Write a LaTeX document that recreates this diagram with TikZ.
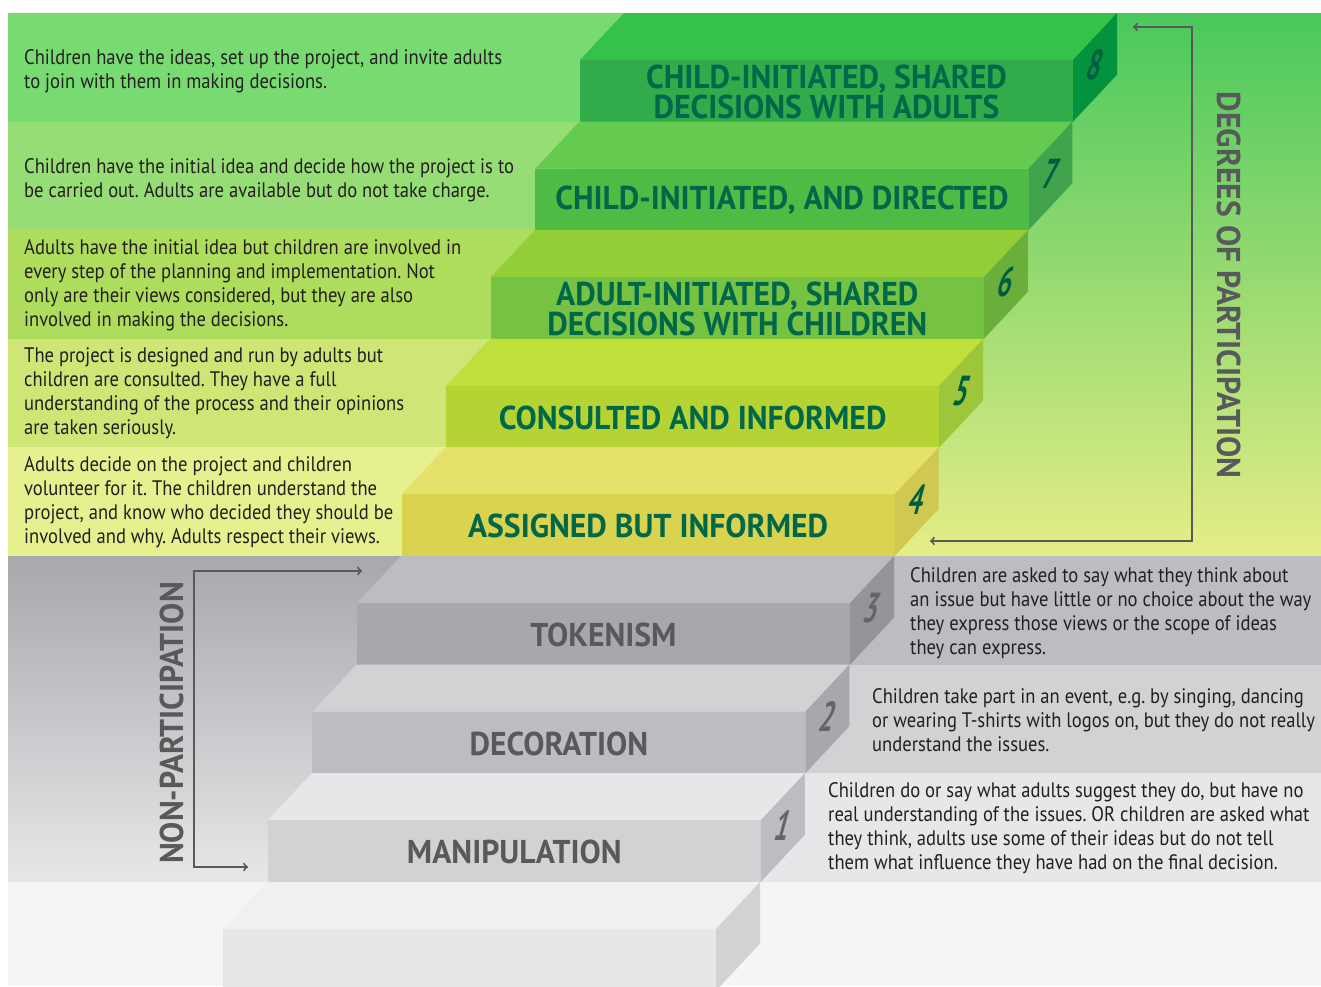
\documentclass[tikz,border=0pt]{standalone}
\usepackage{fontspec}
\usepackage{xcolor}
\usepackage{tikz}
\usetikzlibrary{arrows}
\newfontfamily\bodyfont{PT Sans}[FakeStretch=0.885]
\newfontfamily\headfont{PT Sans}[FakeStretch=0.96]
\newfontfamily\numfont{PT Sans}
\frenchspacing
\definecolor{ink}{HTML}{231F20}
\definecolor{greentext}{HTML}{00674A}
\definecolor{greennum}{HTML}{005E40}
\definecolor{greytext}{HTML}{58595B}
\definecolor{greynum}{HTML}{636466}
\definecolor{bandA}{HTML}{78DB72}
\definecolor{bandB}{HTML}{97DD76}
\definecolor{bandC}{HTML}{AEDC5C}
\definecolor{bandD}{HTML}{CDE676}
\definecolor{bandE}{HTML}{E7F08E}
\definecolor{topA}{HTML}{35C24A}
\definecolor{frontA}{HTML}{32AB4A}
\definecolor{sideA}{HTML}{03933F}
\definecolor{topB}{HTML}{64CA50}
\definecolor{frontB}{HTML}{4EBB44}
\definecolor{sideB}{HTML}{41A44C}
\definecolor{topC}{HTML}{93CE36}
\definecolor{frontC}{HTML}{76C242}
\definecolor{sideC}{HTML}{6AAE3B}
\definecolor{topD}{HTML}{BFE03A}
\definecolor{frontD}{HTML}{B5D434}
\definecolor{sideD}{HTML}{9EC63A}
\definecolor{topE}{HTML}{E5E16A}
\definecolor{frontE}{HTML}{D9D34F}
\definecolor{sideE}{HTML}{CFC951}
\definecolor{greyA}{HTML}{939598}
\definecolor{greyB}{HTML}{A7A8AC}
\definecolor{greyC}{HTML}{BCBDC0}
\definecolor{greyD}{HTML}{D1D2D4}
\definecolor{greyE}{HTML}{E6E7E8}
\definecolor{greyF}{HTML}{EFF0F0}
\definecolor{greyG}{HTML}{F5F5F5}
\tikzstyle{bodytext} = [anchor=west, align=left, inner sep=0pt, text=ink, font=\bodyfont\fontsize{21}{24}\selectfont]
\tikzstyle{steptext} = [align=center, inner sep=0pt, font=\headfont\bfseries\fontsize{33}{30}\selectfont]
\tikzstyle{stepnum} = [inner sep=0pt, xscale=0.6, xslant=0.45, font=\numfont\bfseries\fontsize{42}{42}\selectfont]
\tikzstyle{sidetext} = [inner sep=0pt, text=greytext, font=\headfont\bfseries\fontsize{33}{33}\selectfont]
\tikzstyle{bracket} = [draw=greytext, line width=2pt]
\newcommand{\stair}[6]{
	\fill[#3] (#1,{#2+47}) -- ({#1+44},#2) -- ({#1+537},#2) -- ({#1+493},{#2+47}) -- cycle;
	\fill[#4] (#1,{#2+47}) rectangle ({#1+493},{#2+108.6});
	\fill[#5] ({#1+493},{#2+47}) -- ({#1+537},#2) -- ({#1+537},{#2+61.6}) -- ({#1+493},{#2+108.6}) -- cycle;
	\coordinate (#6) at ({#1+246.5},{#2+79});
	\coordinate (#6n) at ({#1+516},{#2+52});
}

\begin{document}
\begin{tikzpicture}[x=1pt,y=-1pt]
	\useasboundingbox (0,0) rectangle (1321,986);
	\fill[top color=topA!90!white, middle color=bandC!80!bandB, bottom color=bandE!80!topE] (8,13) rectangle (1321,556);
	\fill[bandA] (8,13) rectangle (624,121.6);
	\fill[bandB] (8,121.6) rectangle (579.4,230.2);
	\fill[bandC] (8,230.2) rectangle (534.8,338.8);
	\fill[bandD] (8,338.8) rectangle (490.2,447.4);
	\fill[bandE] (8,447.4) rectangle (445.6,556);
	\fill[top color=greyB, bottom color=greyE] (8,556) rectangle (1321,881.8);
	\fill[greyC] (850,556) rectangle (1321,664.6);
	\fill[greyD] (805.4,664.6) rectangle (1321,773.2);
	\fill[greyE] (760.8,773.2) rectangle (1321,881.8);
	\fill[greyG] (8,881.8) rectangle (1321,986);

	\stair{580}{13}{topA}{frontA}{sideA}{s8}
	\stair{535.4}{121.6}{topB}{frontB}{sideB}{s7}
	\stair{490.8}{230.2}{topC}{frontC}{sideC}{s6}
	\stair{446.2}{338.8}{topD}{frontD}{sideD}{s5}
	\stair{401.6}{447.4}{topE}{frontE}{sideE}{s4}
	\stair{357}{556}{greyC}{greyB}{greyA}{s3}
	\stair{312.4}{664.6}{greyD}{greyC}{greyB}{s2}
	\stair{267.8}{773.2}{greyE}{greyD}{greyC}{s1}
	\stair{223.2}{881.8}{greyF}{greyE}{greyD}{s0}

	\node[steptext, text=greentext] (l8) at (s8) {CHILD-INITIATED, SHARED\\DECISIONS WITH ADULTS};
	\node[steptext, text=greentext] (l7) at (s7) {CHILD-INITIATED, AND DIRECTED};
	\node[steptext, text=greentext] (l6) at (s6) {ADULT-INITIATED, SHARED\\DECISIONS WITH CHILDREN};
	\node[steptext, text=greentext] (l5) at (s5) {CONSULTED AND INFORMED};
	\node[steptext, text=greentext] (l4) at (s4) {ASSIGNED BUT INFORMED};
	\node[steptext, text=greytext] (l3) at (s3) {TOKENISM};
	\node[steptext, text=greytext] (l2) at (s2) {DECORATION};
	\node[steptext, text=greytext] (l1) at (s1) {MANIPULATION};

	\node[stepnum, text=greennum] (n8) at (s8n) {8};
	\node[stepnum, text=greennum] (n7) at (s7n) {7};
	\node[stepnum, text=greennum] (n6) at (s6n) {6};
	\node[stepnum, text=greennum] (n5) at (s5n) {5};
	\node[stepnum, text=greennum] (n4) at (s4n) {4};
	\node[stepnum, text=greynum] (n3) at (s3n) {3};
	\node[stepnum, text=greynum] (n2) at (s2n) {2};
	\node[stepnum, text=greynum] (n1) at (s1n) {1};

	\node[bodytext] (t8) at (24,71) {Children have the ideas, set up the project, and invite adults\\to join with them in making decisions.};
	\node[bodytext] (t7) at (24,180) {Children have the initial idea and decide how the project is to\\be carried out. Adults are available but do not take charge.};
	\node[bodytext] (t6) at (24,285) {Adults have the initial idea but children are involved in\\every step of the planning and implementation. Not\\only are their views considered, but they are also\\involved in making the decisions.};
	\node[bodytext] (t5) at (24,393) {The project is designed and run by adults but\\children are consulted. They have a full\\understanding of the process and their opinions\\are taken seriously.};
	\node[bodytext] (t4) at (24,502) {Adults decide on the project and children\\volunteer for it. The children understand the\\project, and know who decided they should be\\involved and why. Adults respect their views.};
	\node[bodytext] (t3) at (910,613) {Children are asked to say what they think about\\an issue but have little or no choice about the way\\they express those views or the scope of ideas\\they can express.};
	\node[bodytext] (t2) at (872,720) {Children take part in an event, e.g. by singing, dancing\\or wearing T-shirts with logos on, but they do not really\\understand the issues.};
	\node[bodytext] (t1) at (828,828) {Children do or say what adults suggest they do, but have no\\real understanding of the issues. OR children are asked what\\they think, adults use some of their ideas but do not tell\\them what influence they have had on the final decision.};

	\node[sidetext, rotate=-90] (dp) at (1229,285) {DEGREES OF PARTICIPATION};
	\node[sidetext, rotate=90] (np) at (172,723) {NON-PARTICIPATION};

	\coordinate (d1) at (1133,27);
	\coordinate (d2) at (1192,27);
	\coordinate (d3) at (1192,541);
	\coordinate (d4) at (930,541);
	\draw[bracket,<->] (d1) -- (d2) -- (d3) -- (d4);
	\coordinate (p1) at (362,571);
	\coordinate (p2) at (194,571);
	\coordinate (p3) at (194,867);
	\coordinate (p4) at (248,867);
	\draw[bracket,<->] (p1) -- (p2) -- (p3) -- (p4);
\end{tikzpicture}
\end{document}
